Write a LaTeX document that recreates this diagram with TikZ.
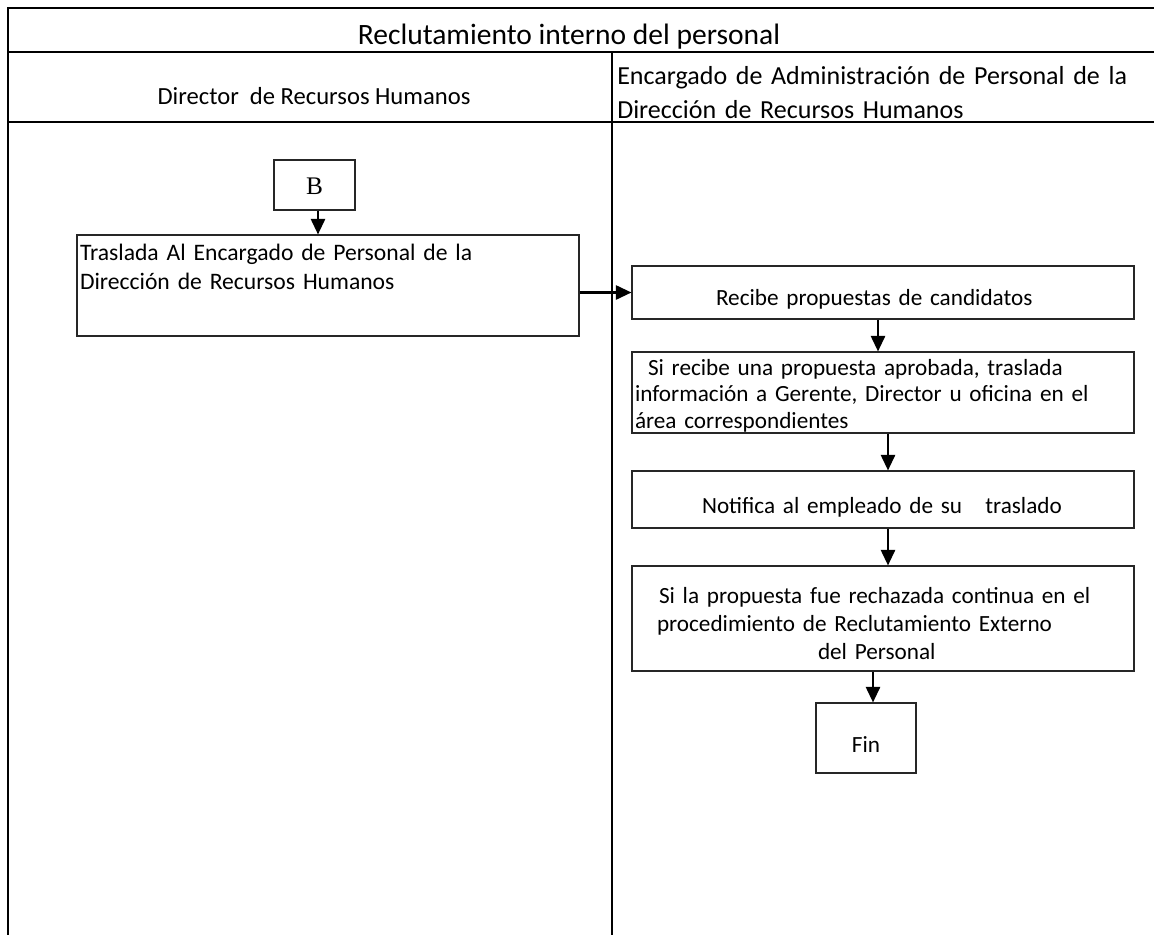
\documentclass[tikz,border=0pt]{standalone}
\usepackage{fontspec}
\setmainfont{Carlito}
\newfontfamily\serifb{Liberation Serif}
\usepackage{tikz}
\usetikzlibrary{arrows.meta}
\usetikzlibrary{calc}

\def\pxu{0.025cm}
\newdimen\pxd \pxd=0.025cm

\begin{document}
\begin{tikzpicture}[x=0.025cm,y=-0.025cm]
\tikzstyle{caja}=[draw=black!85, line width=0.8pt, inner xsep=3*\pxu, inner ysep=0pt, align=left, font=\fontsize{16.5}{19.5}\selectfont]
\tikzstyle{ancha}=[caja, text width=496*\pxu]
\tikzstyle{flecha}=[-{Triangle[width=10pt,length=11pt]}, line width=1.6pt]
\tikzstyle{marco}=[line width=1.6pt]
\tikzstyle{cabecera}=[inner sep=0pt]
\useasboundingbox (0,0) rectangle (1154,935);
% marco y carriles
\draw[marco] (1154,8) -- (8,8) -- (8,935);
\draw[marco] (8,52) -- (1154,52);
\draw[marco] (8,122) -- (1154,122);
\draw[line width=1.2pt] (612,52) -- (612,935);
\node[cabecera, anchor=base, font=\fontsize{21}{24}\selectfont] (titulo) at (569,44) {Reclutamiento interno del personal};
\node[cabecera, anchor=base, font=\fontsize{17.5}{20}\selectfont] (carril1) at (314,104) {Director\ \ de Recursos Humanos};
\node[cabecera, anchor=base west, align=left, text width=530*\pxu, font=\fontsize{18.5}{24.2}\selectfont] (carril2) at (617,84)
  {Encargado de Administración de Personal de la\\Dirección de Recursos Humanos};
% cajas
\node[caja, align=center, minimum width=81*\pxu, minimum height=50*\pxu, text height=18\pxd, text depth=0pt,
  font=\serifb\fontsize{18}{20}\selectfont] (B) at (314.5,185) {B};
\node[ancha, minimum height=101*\pxu, text height=0pt, text depth=51\pxd, font=\fontsize{16.8}{21.3}\selectfont] (tras) at (328,285.5)
  {Traslada Al Encargado de Personal de la\\Dirección de Recursos Humanos};
\node[ancha, minimum height=53*\pxu, text height=25\pxd, text depth=0pt] (rec) at (883,292.5)
  {\hspace*{81\pxd}Recibe propuestas de candidatos};
\node[ancha, minimum height=81*\pxu, text height=0pt, text depth=35\pxd, font=\fontsize{16.5}{18.9}\selectfont] (sirec) at (883,392.5)
  {\hspace*{13\pxd}Si recibe una propuesta aprobada, traslada\\información a Gerente, Director u oficina en el\\área correspondientes};
\node[ancha, minimum height=57*\pxu, text height=27\pxd, text depth=0pt] (noti) at (883,499.5)
  {\hspace*{67\pxd}Notifica al empleado de su\ \ \ traslado};
\node[ancha, minimum height=105*\pxu, text height=0pt, text depth=31\pxd, font=\fontsize{16.5}{20}\selectfont] (rech) at (883,618.5)
  {\hspace*{24\pxd}Si la propuesta fue rechazada continua en el\\\hspace*{22\pxd}procedimiento de Reclutamiento Externo\\\hspace*{183\pxd}del Personal};
\node[caja, align=center, minimum width=100*\pxu, minimum height=70*\pxu, text height=28\pxd, text depth=0pt] (fin) at (866,738) {Fin};
% flechas
\draw[flecha] ([xshift=3.5*\pxu]B.south) -- ([xshift=3.5*\pxu]B.south |- tras.north);
\draw[flecha] (tras.east |- rec.west) -- (rec.west);
\draw[flecha] ([xshift=-5*\pxu]rec.south) -- ([xshift=-5*\pxu]rec.south |- sirec.north);
\draw[flecha] ([xshift=5*\pxu]sirec.south) -- ([xshift=5*\pxu]sirec.south |- noti.north);
\draw[flecha] ([xshift=5*\pxu]noti.south) -- ([xshift=5*\pxu]noti.south |- rech.north);
\draw[flecha] ([xshift=-10*\pxu]rech.south) -- ([xshift=-10*\pxu]rech.south |- fin.north);
\end{tikzpicture}
\end{document}
